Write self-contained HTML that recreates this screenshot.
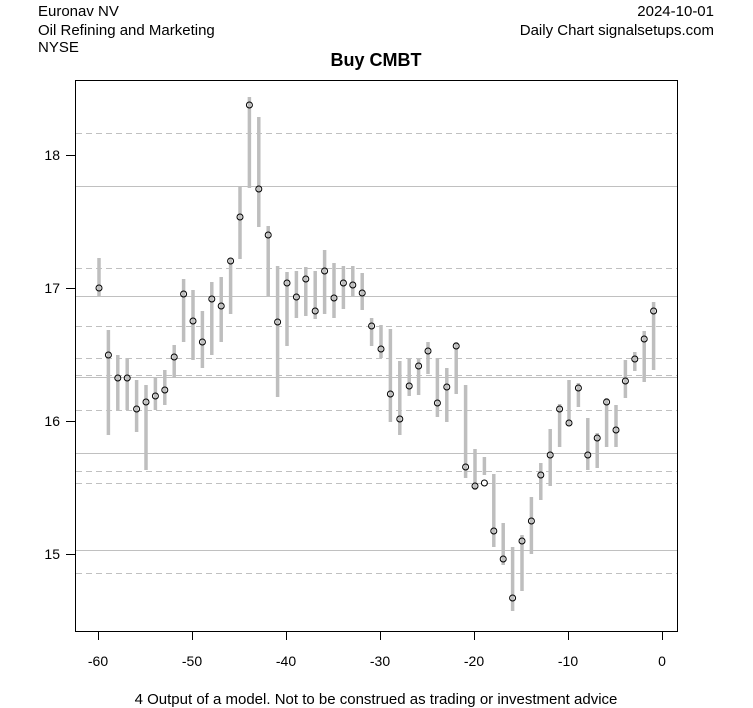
<!DOCTYPE html>
<html><head><meta charset="utf-8"><style>
body{margin:0;background:#fff}
svg{display:block;font-family:"Liberation Sans",Arial,sans-serif}
</style></head><body>
<svg id="s" width="753" height="708" xmlns="http://www.w3.org/2000/svg">
<rect width="753" height="708" fill="#fff"/>
<g font-size="15" fill="#000">
<text x="38" y="16">Euronav NV</text>
<text x="38" y="35">Oil Refining and Marketing</text>
<text x="38" y="52">NYSE</text>
<text x="714" y="16" text-anchor="end">2024-10-01</text>
<text x="714" y="35" text-anchor="end">Daily Chart signalsetups.com</text>
</g>
<text x="376" y="66" font-size="18" font-weight="bold" text-anchor="middle">Buy CMBT</text>
<g id="grid"></g>
<g id="bars"></g>
<rect x="75.5" y="80.5" width="602" height="551" fill="none" stroke="#000"/>
<g stroke="#000">
<line x1="98.5" y1="631" x2="98.5" y2="640"/><line x1="192.5" y1="631" x2="192.5" y2="640"/>
<line x1="286.5" y1="631" x2="286.5" y2="640"/><line x1="380.5" y1="631" x2="380.5" y2="640"/>
<line x1="474.5" y1="631" x2="474.5" y2="640"/><line x1="568.5" y1="631" x2="568.5" y2="640"/>
<line x1="662.5" y1="631" x2="662.5" y2="640"/>
<line x1="66" y1="155.5" x2="75" y2="155.5"/><line x1="66" y1="288.5" x2="75" y2="288.5"/>
<line x1="66" y1="421.5" x2="75" y2="421.5"/><line x1="66" y1="554.5" x2="75" y2="554.5"/>
</g>
<g font-size="14" text-anchor="middle">
<text x="98" y="666">-60</text><text x="192" y="666">-50</text><text x="286" y="666">-40</text>
<text x="380" y="666">-30</text><text x="474" y="666">-20</text><text x="568" y="666">-10</text>
<text x="662" y="666">0</text>
</g>
<g font-size="14" text-anchor="end">
<text x="60" y="160">18</text><text x="60" y="293">17</text><text x="60" y="426">16</text><text x="60" y="559">15</text>
</g>
<text x="376" y="704" font-size="15" text-anchor="middle">4 Output of a model. Not to be construed as trading or investment advice</text>
</svg>
<script>
var NS="http://www.w3.org/2000/svg";
var g=document.getElementById("grid"),b=document.getElementById("bars");
function el(p,t,a){var e=document.createElementNS(NS,t);for(var k in a)e.setAttribute(k,a[k]);p.appendChild(e);}
[133,268,326,358,375,410,471,483,573].forEach(function(y){el(g,"line",{x1:76,x2:677,y1:y+.5,y2:y+.5,stroke:"#c0c0c0","stroke-dasharray":"6,4"});});
[186,296,377,453,550].forEach(function(y){el(g,"line",{x1:76,x2:677,y1:y+.5,y2:y+.5,stroke:"#c0c0c0"});});
var d=[[288,258,296],[355,330,435],[378,355,410],[378,358,410],[409,380,432],[402,385,470],[396,378,410],[390,370,405],[357,345,378],[294,279,342],
[321,290,360],[342,311,368],[299,282,355],[306,277,342],[261,258,314],[217,186,259],[105,97,188],[189,117,227],[235,226,296],[322,266,397],
[283,272,346],[297,271,318],[279,267,316],[311,271,319],[271,250,314],[298,263,318],[283,266,309],[285,266,296],[293,273,310],[326,318,346],
[349,325,358],[394,329,422],[419,361,435],[386,358,396],[366,359,395],[351,342,374],[403,358,417],[387,368,422],[346,342,394],[467,385,478],
[486,449,490],[483,457,475],[531,474,547],[559,523,565],[598,547,611],[541,535,591],[521,497,554],[475,463,500],[455,429,486],[409,404,447],
[423,380,426],[388,383,407],[455,418,470],[438,433,468],[402,398,447],[430,405,447],[381,360,398],[359,352,371],[339,331,382],[311,302,370]];
d.forEach(function(v,k){var i=k-60,x=663+9.4*i;
el(b,"line",{x1:x,x2:x,y1:v[1],y2:v[2],stroke:"#bebebe","stroke-width":3.5});
el(b,"circle",{cx:x,cy:v[0],r:3,fill:"none",stroke:"#000","stroke-width":1});});
</script>
</body></html>
